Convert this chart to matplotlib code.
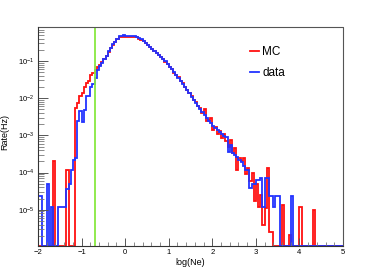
import numpy as np
import matplotlib
matplotlib.use("Agg")
import matplotlib.pyplot as plt
from matplotlib.ticker import MultipleLocator, LogLocator, NullFormatter

plt.rcParams['font.family'] = ['Liberation Sans', 'DejaVu Sans']

# ---- data -------------------------------------------------------------
bin_edges = np.round(np.arange(-2.0, 5.0001, 0.05), 3)   # 140 bins of log(Ne)

data_rate = [
    2.4e-5, 2.4e-5, 0, 0, 4.8e-5, 0, 1.2e-5, 0, 0, 1.2e-5,
    1.2e-5, 1.2e-5, 1.2e-5, 3.6e-5, 4.8e-5, 1.2e-4, 2.2e-4, 2.4e-4, 2.4e-3, 4.6e-3,
    2.3e-3, 4.8e-3, 0.0115, 0.0115, 0.020, 0.0236, 0.034, 0.057, 0.072, 0.090,
    0.110, 0.140, 0.180, 0.230, 0.280, 0.330, 0.400, 0.460, 0.480, 0.490,
    0.470, 0.470, 0.460, 0.470, 0.460, 0.440, 0.420, 0.380, 0.340, 0.310,
    0.270, 0.240, 0.215, 0.190, 0.165, 0.148, 0.128, 0.112, 0.097, 0.083,
    0.071, 0.060, 0.050, 0.042, 0.035, 0.029, 0.024, 0.020, 0.0165, 0.0135,
    0.011, 0.0091, 0.0075, 0.0062, 0.0051, 0.0043, 0.0036, 0.0030, 0.0025, 0.0021,
    0.0018, 0.0016, 0.0014, 0.0012, 0.0011, 9.5e-4, 9.0e-4, 3.6e-4, 5.5e-4, 3.3e-4,
    3.0e-4, 2.6e-4, 2.2e-4, 1.9e-4, 1.5e-4, 1.2e-4, 1.2e-4, 3.8e-5, 5.0e-5, 5.0e-5,
    6.3e-5, 6.3e-5, 7.0e-5, 1.2e-5, 7.0e-5, 7.0e-5, 2.4e-5, 2.4e-5, 1.2e-5, 2.4e-5,
    2.4e-5, 0, 0, 0, 0, 0, 2.4e-5, 0, 0, 0,
    0, 0, 0, 0, 0, 0, 0, 0, 0, 0,
    0, 0, 0, 0, 0, 0, 0, 0, 0, 0,
]

mc_rate = [
    0, 0, 0, 0, 0, 0, 0, 2.1e-4, 0, 0,
    0, 0, 0, 1.2e-4, 0, 0, 0, 5.4e-3, 7.3e-3, 0.0117,
    0.0135, 0.0204, 0.025, 0.0295, 0.042, 0.047, 0.057, 0.068, 0.078, 0.092,
    0.112, 0.140, 0.175, 0.220, 0.270, 0.320, 0.380, 0.430, 0.450, 0.450,
    0.450, 0.440, 0.450, 0.440, 0.450, 0.430, 0.400, 0.370, 0.340, 0.300,
    0.270, 0.240, 0.210, 0.190, 0.165, 0.145, 0.128, 0.110, 0.096, 0.082,
    0.070, 0.060, 0.049, 0.042, 0.036, 0.029, 0.025, 0.020, 0.017, 0.0135,
    0.0115, 0.0090, 0.0078, 0.0061, 0.0053, 0.0041, 0.0050, 0.0024, 0.0026, 0.0029,
    0.0014, 0.0017, 0.0011, 0.0013, 8.5e-4, 1.1e-3, 7.0e-4, 5.0e-4, 7.5e-4, 3.4e-4,
    4.5e-4, 1.2e-4, 2.5e-4, 2.0e-4, 2.4e-4, 9.0e-5, 1.3e-4, 6.0e-5, 9.8e-5, 1.7e-5,
    5.0e-5, 1.2e-5, 2.5e-5, 4.0e-6, 1.1e-5, 1.3e-4, 2.5e-6, 2.6e-6, 0, 0,
    0, 0, 1.35e-5, 0, 0, 2.1e-6, 0, 0, 0, 0,
    1.2e-5, 0, 0, 0, 0, 0, 1.0e-5, 0, 0, 0,
    0, 0, 0, 0, 0, 0, 0, 0, 0, 0,
]

cut_value = -0.7
x_range = (-2.0, 5.0)
y_range = (1.06e-6, 0.82)

# ---- figure -----------------------------------------------------------
fig = plt.figure(figsize=(3.82, 2.74), dpi=100)
ax = fig.add_axes([38 / 382, 1 - 246 / 274, 305 / 382, 219 / 274])
ax.set_yscale('log')
ax.set_xlim(*x_range)
ax.set_ylim(*y_range)

floor = y_range[0] * 1.03
mc = np.where(np.array(mc_rate) > 0, mc_rate, floor)
dt = np.where(np.array(data_rate) > 0, data_rate, floor)

ax.stairs(mc, bin_edges, baseline=floor, color='#ff1010', lw=1.3, label='MC')
ax.stairs(dt, bin_edges, baseline=floor, color='#2233ff', lw=1.3, label='data')
ax.axvline(cut_value, color='#88e840', lw=1.3)

for s in ['top', 'right']:
    ax.spines[s].set_visible(False)
for s in ['left', 'bottom']:
    ax.spines[s].set_color('#333333')
    ax.spines[s].set_linewidth(0.8)
ax.plot([0, 1, 1], [1, 1, 0], transform=ax.transAxes, color='#555555', lw=0.8, clip_on=False)

ax.xaxis.set_major_locator(MultipleLocator(1))
ax.xaxis.set_minor_locator(MultipleLocator(0.2))
ax.yaxis.set_major_locator(LogLocator(base=10, numticks=20))
ax.yaxis.set_minor_locator(LogLocator(base=10, subs=np.arange(2, 10), numticks=20))
ax.yaxis.set_minor_formatter(NullFormatter())
ax.tick_params(which='major', direction='in', length=6, width=0.7, color='#555555',
               labelsize=5.5, pad=2.5)
ax.tick_params(which='minor', direction='in', length=3, width=0.6, color='#777777')
ax.tick_params(axis='y', which='major', length=7)
ax.tick_params(axis='y', which='minor', length=4)

ax.set_xlabel('log(Ne)', fontsize=6.5)
ax.xaxis.set_label_coords(0.5, -0.055)
ax.set_ylabel('Rate(Hz)', fontsize=6.5)
ax.yaxis.set_label_coords(-0.095, 0.52)

leg = ax.legend(loc='upper left', bbox_to_anchor=(0.695, 0.912), frameon=False,
                fontsize=8.5, handlelength=0.8, handletextpad=0.25,
                labelspacing=0.72, borderpad=0, borderaxespad=0)

fig.savefig('out.png', dpi=100)
